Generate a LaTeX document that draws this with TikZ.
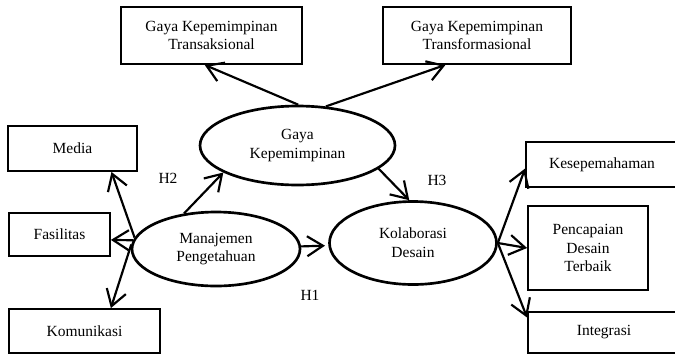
\documentclass[tikz,border=0pt]{standalone}
\usepackage{fontspec}
\setmainfont{Liberation Serif}
\usetikzlibrary{shapes.geometric,arrows.meta}

\begin{document}
\begin{tikzpicture}[x=0.6pt,y=-0.6pt,
	kotak/.style={draw, line width=1.1pt, inner sep=0pt, align=center, font=\fontsize{9.3}{11.2}\selectfont},
	oval/.style={draw, ellipse, line width=1.6pt, inner sep=0pt, align=center, font=\fontsize{9.3}{11.2}\selectfont},
	panah/.style={-{Straight Barb[length=9.5pt,width=12pt]}, line width=1.3pt},
	hip/.style={inner sep=0pt, font=\fontsize{9.3}{11.2}\selectfont}]
	\useasboundingbox (0,0) rectangle (675,354);
	% kotak atas
	\draw (211.5,35.5) node[kotak, minimum width=108.6pt, minimum height=34.2pt](gtr) {Gaya Kepemimpinan\\Transaksional};
	\draw (477,35.5) node[kotak, minimum width=112.8pt, minimum height=34.2pt](gtf) {Gaya Kepemimpinan\\Transformasional};
	% kotak kiri
	\draw (72.5,148.5) node[kotak, minimum width=77.4pt, minimum height=27pt](med) {Media};
	\draw (59.5,234.5) node[kotak, minimum width=60.6pt, minimum height=25.8pt](fas) {Fasilitas};
	\draw (84.5,331) node[kotak, minimum width=90.6pt, minimum height=26.4pt](kom) {Komunikasi};
	% kotak kanan
	\draw (602,164.5) node[kotak, minimum width=91.2pt, minimum height=27pt](kes) {Kesepemahaman};
	\draw (588,248) node[kotak, minimum width=72pt, minimum height=50.4pt](pen) {Pencapaian\\Desain\\Terbaik};
	\draw (604,332.5) node[kotak, minimum width=91.2pt, minimum height=24.6pt](int) {Integrasi};
	% variabel
	\draw (297.5,145.5) node[oval, minimum width=117pt, minimum height=47.4pt](gaya) {Gaya\\Kepemimpinan};
	\draw (216,249) node[oval, minimum width=100.8pt, minimum height=44.4pt](mp) {Manajemen\\Pengetahuan};
	\draw (413,243) node[oval, minimum width=100.2pt, minimum height=49.8pt](kol) {Kolaborasi\\Desain};
	% hipotesis
	\draw (168,178) node[hip](h2) {H2};
	\draw (437,180) node[hip](h3) {H3};
	\draw (310,295) node[hip](h1) {H1};
	% panah
	\draw[panah] (gaya.89) -- (gtr.257);
	\draw[panah] (gaya.54) -- (gtf.223.5);
	\draw[panah] (mp.132) -- (gaya.200);
	\draw[panah] (gaya.-16) -- (kol.95);
	\draw[panah, shorten >=2pt] (mp) -- (kol);
	\draw[panah] (mp.172) -- (med.-31);
	\draw[panah] (mp.174) -- (fas.-6);
	\draw[panah] (mp.177) -- (kom.41);
	\draw[panah] (kol.east) -- (kes.183);
	\draw[panah] (kol.east) -- (pen.west);
	\draw[panah] (kol.east) -- (int.169);
\end{tikzpicture}
\end{document}
